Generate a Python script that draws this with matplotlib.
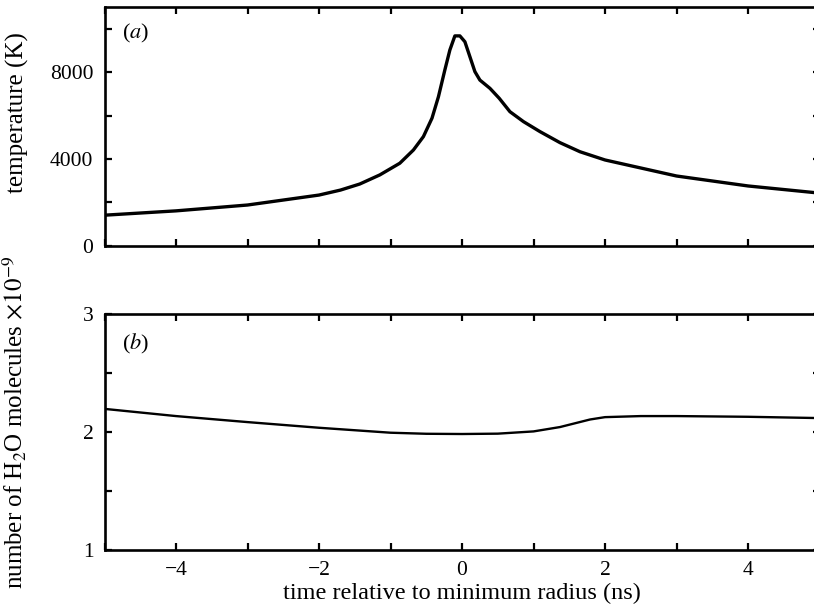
import matplotlib
matplotlib.use("Agg")
import matplotlib.pyplot as plt
from matplotlib.ticker import MultipleLocator

# temperature of the bubble interior around collapse
time_T = [-5.0, -4.0, -3.0, -2.0, -1.7, -1.43, -1.15, -0.87, -0.68, -0.54, -0.42,
          -0.33, -0.24, -0.17, -0.10, -0.03, 0.04, 0.11, 0.18, 0.25, 0.39, 0.52,
          0.67, 0.86, 1.09, 1.37, 1.65, 2.0, 3.0, 4.0, 5.0]
temperature = [1400, 1600, 1870, 2330, 2560, 2840, 3260, 3800, 4410, 5030, 5880,
               6870, 8110, 9030, 9680, 9680, 9410, 8720, 8030, 7640, 7260, 6800,
               6180, 5720, 5260, 4750, 4330, 3950, 3210, 2750, 2420]

# number of water molecules (x 1e-9)
time_N = [-5.0, -4.0, -3.0, -2.0, -1.0, -0.5, 0.0, 0.5, 1.0, 1.37, 1.79, 2.0,
          2.5, 3.0, 4.0, 5.0]
n_h2o = [2.196, 2.135, 2.084, 2.036, 1.994, 1.985, 1.983, 1.986, 2.005, 2.042,
         2.106, 2.126, 2.135, 2.135, 2.129, 2.118]

plt.rcParams['font.family'] = ['Liberation Serif', 'DejaVu Serif']
plt.rcParams['mathtext.fontset'] = 'stix'
plt.rcParams['font.size'] = 16

fig = plt.figure(figsize=(8.14, 6.15), dpi=100)
ax1 = fig.add_axes([0.1284, 0.6008, 0.8784, 0.3873])
ax2 = fig.add_axes([0.1284, 0.1057, 0.8784, 0.3837])

ax1.plot(time_T, temperature, color='black', linewidth=2.4,
         solid_joinstyle='round')
ax2.plot(time_N, n_h2o, color='black', linewidth=1.7, solid_joinstyle='round')

for ax in (ax1, ax2):
    ax.set_xlim(-5, 5)
    ax.xaxis.set_major_locator(MultipleLocator(2))
    ax.xaxis.set_minor_locator(MultipleLocator(1))
    ax.tick_params(which='both', direction='in', top=True, right=True,
                   length=5, width=1.6, labelsize=15.5, pad=8)
    for sp in ax.spines.values():
        sp.set_linewidth(1.9)

ax1.set_ylim(0, 11000)
ax1.yaxis.set_major_locator(MultipleLocator(4000))
ax1.yaxis.set_minor_locator(MultipleLocator(2000))
ax1.set_xticklabels([])
ax1.set_ylabel('temperature (K)', fontsize=18)
ax1.yaxis.set_label_coords(-0.106, 0.56)
ax1.text(0.024, 0.892, r'($\mathit{a}$)', transform=ax1.transAxes,
         fontsize=16, va='center', ha='left')

ax2.set_ylim(1, 3)
ax2.yaxis.set_major_locator(MultipleLocator(1))
ax2.yaxis.set_minor_locator(MultipleLocator(0.5))
ax2.set_ylabel(r'number of H$_2$O molecules $\times 10^{-9}$', fontsize=18)
ax2.yaxis.set_label_coords(-0.105, 0.54)
ax2.set_xlabel('time relative to minimum radius (ns)', fontsize=17.5,
               labelpad=2)
ax2.text(0.024, 0.871, r'($\mathit{b}$)', transform=ax2.transAxes,
         fontsize=16, va='center', ha='left')

fig.savefig('out.png', dpi=100)
